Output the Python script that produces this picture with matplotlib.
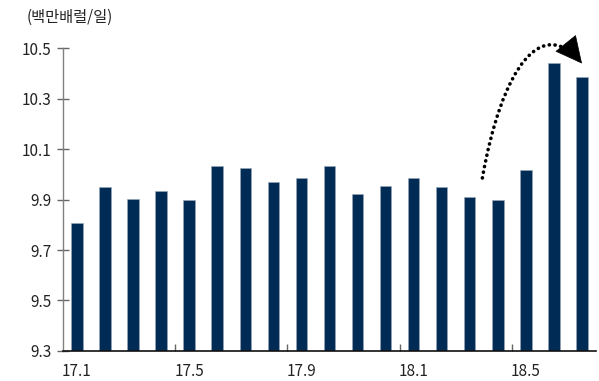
import matplotlib
matplotlib.use("Agg")
import matplotlib.pyplot as plt
from matplotlib.path import Path
from matplotlib.patches import FancyArrowPatch

plt.rcParams['font.family'] = ['Noto Sans CJK KR', 'DejaVu Sans']

months = ["17.1", "17.2", "17.3", "17.4", "17.5", "17.6", "17.7", "17.8", "17.9", "17.10",
          "17.11", "17.12", "18.1", "18.2", "18.3", "18.4", "18.5", "18.6", "18.7"]
values = [9.809, 9.952, 9.904, 9.933, 9.898, 10.035, 10.026, 9.969, 9.987, 10.033,
          9.924, 9.954, 9.987, 9.950, 9.912, 9.898, 10.016, 10.443, 10.388]
shown_labels = ["17.1", "17.5", "17.9", "18.1", "18.5"]
yticks = [9.3, 9.5, 9.7, 9.9, 10.1, 10.3, 10.5]
unit_label = "(백만배럴/일)"

fig = plt.figure(figsize=(5.99, 3.81), dpi=100)
ax = fig.add_axes([0.105, 0.079, 0.89, 0.794])

x = list(range(len(months)))
ax.bar(x, values, width=0.41, color="#002B55", edgecolor="#9aa8b8", linewidth=0.4)

ax.set_xlim(-0.5, len(months) - 0.5)
ax.set_ylim(9.3, 10.5)

major = [months.index(m) for m in shown_labels]
ax.set_xticks(major)
ax.set_xticklabels(shown_labels)
ax.set_xticks([m - 0.5 for m in major[1:]], minor=True)
ax.tick_params(axis="x", which="major", length=0, pad=9, labelsize=11, colors="#222222")
ax.tick_params(axis="x", which="minor", direction="in", length=5, width=1, color="#666666")

ax.set_yticks(yticks)
ax.set_yticklabels([f"{v:.1f}" for v in yticks])
ax.tick_params(axis="y", direction="inout", length=8, width=1, color="#666666",
               labelsize=11, labelcolor="#222222", pad=4)

for s in ["top", "right"]:
    ax.spines[s].set_visible(False)
ax.spines["left"].set_color("#808080")
ax.spines["left"].set_linewidth(1)
ax.spines["bottom"].set_color("#111111")
ax.spines["bottom"].set_linewidth(1.2)

fig.text(27 / 599, 1 - 17 / 381, unit_label, fontsize=11, color="#222222", va="center", ha="left")

# dotted curved arrow (curve + solid head)
p0, c1, c2, p3 = (14.45, 9.986), (15.14, 10.42), (16.55, 10.64), (18.0, 10.44)
curve = FancyArrowPatch(path=Path([p0, c1, c2, p3],
                                  [Path.MOVETO, Path.CURVE4, Path.CURVE4, Path.CURVE4]),
                        arrowstyle="-", linestyle=(0, (0.05, 1.55)), linewidth=2.6,
                        capstyle="round", color="black", transform=ax.transData,
                        clip_on=False)
ax.add_patch(curve)
tail = (p3[0] - 0.22 * (p3[0] - c2[0]), p3[1] - 0.22 * (p3[1] - c2[1]))
head = FancyArrowPatch(tail, p3, arrowstyle="-|>,head_length=0.9,head_width=0.45",
                       mutation_scale=20, linewidth=0.5, color="black",
                       shrinkA=0, shrinkB=0, transform=ax.transData, clip_on=False)
ax.add_patch(head)

fig.savefig("out.png", dpi=100)
